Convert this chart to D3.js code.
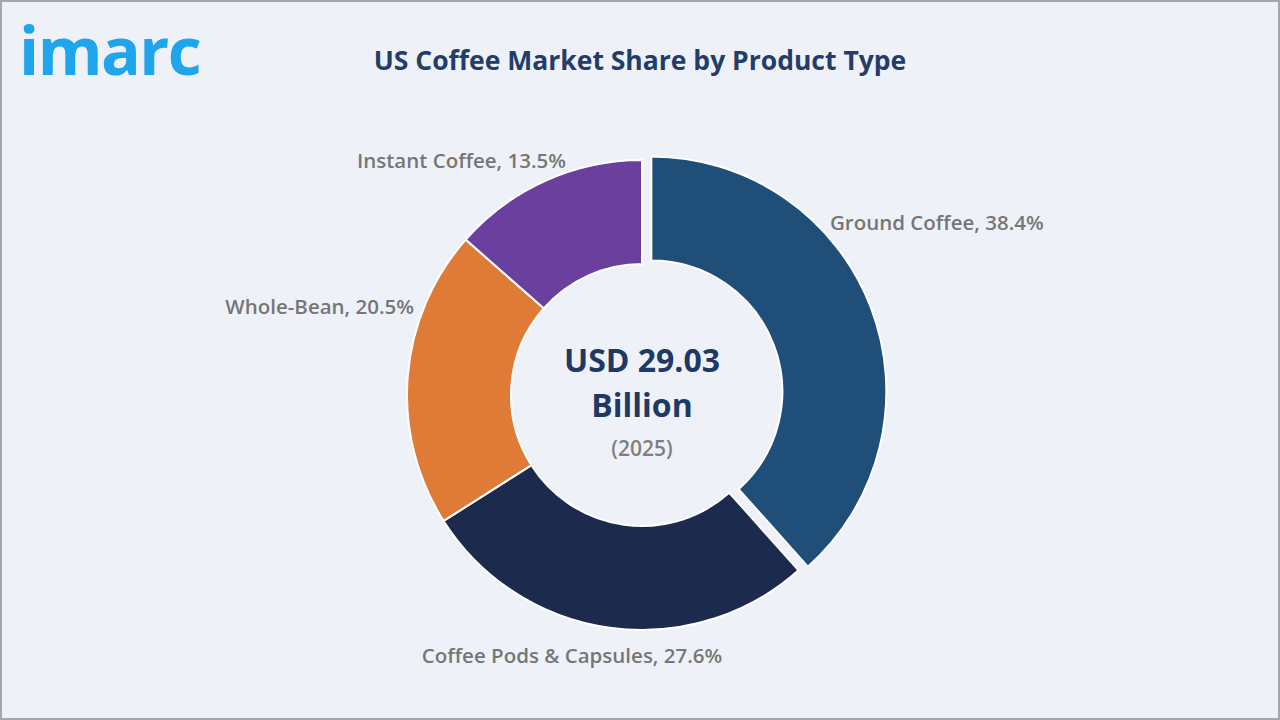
<!DOCTYPE html>
<html>
<head>
<meta charset="utf-8">
<script src="https://cdn.jsdelivr.net/npm/d3@7"></script>
<style>
  html, body { margin: 0; padding: 0; background: #eef2f8; }
  svg { display: block; }
</style>
</head>
<body>
<svg id="chart" width="1280" height="720"></svg>
<script>
// ---- data ----
const categories = ["Ground Coffee", "Coffee Pods & Capsules", "Whole-Bean", "Instant Coffee"];
const shares = [38.4, 27.6, 20.5, 13.5];
const colors = ["#1f4e79", "#1c2a4e", "#e07a37", "#6b3f9e"];
const titleText = "US Coffee Market Share by Product Type";
const centerLines = ["USD 29.03", "Billion", "(2025)"];

// ---- layout ----
const W = 1280, H = 720;
const cx = 642, cy = 395;
const outerR = 235, innerR = 131;
const explode = [10, 0, 0, 0];
// label anchors: [x, y, anchor]
const labelPos = [
  [830, 223, "start"],
  [572, 656, "middle"],
  [414, 307, "end"],
  [566, 161, "end"]
];

const svg = d3.select("#chart");
svg.append("rect").attr("x", 1).attr("y", 1).attr("width", W - 2).attr("height", H - 2)
  .attr("fill", "#eef2f8").attr("stroke", "#a6a6a6").attr("stroke-width", 2);

// logo
svg.append("text").attr("x", 19).attr("y", 75)
  .attr("font-family", "Open Sans, sans-serif").attr("font-weight", 700)
  .attr("font-size", 66).attr("fill", "#1ea5ec").attr("letter-spacing", -1.5)
  .text("imarc");

// title
svg.append("text").attr("x", 640).attr("y", 70).attr("text-anchor", "middle")
  .attr("font-family", "Open Sans, sans-serif").attr("font-weight", 700)
  .attr("font-size", 26.5).attr("fill", "#233c6a")
  .text(titleText);

const pie = d3.pie().sort(null).value(d => d)(shares);
const arc = d3.arc().innerRadius(innerR).outerRadius(outerR);

const g = svg.append("g").attr("transform", `translate(${cx},${cy})`);
g.selectAll("path").data(pie).join("path")
  .attr("d", arc)
  .attr("fill", (d, i) => colors[i])
  .attr("stroke", "#ffffff").attr("stroke-width", 2).attr("stroke-linejoin", "miter")
  .attr("transform", (d, i) => {
    const a = (d.startAngle + d.endAngle) / 2;
    return `translate(${Math.sin(a) * explode[i]},${-Math.cos(a) * explode[i]})`;
  });

// labels
svg.selectAll("text.lbl").data(pie).join("text").attr("class", "lbl")
  .attr("x", (d, i) => labelPos[i][0])
  .attr("y", (d, i) => labelPos[i][1])
  .attr("dy", "0.35em")
  .attr("text-anchor", (d, i) => labelPos[i][2])
  .attr("font-family", "Open Sans, sans-serif").attr("font-weight", 600)
  .attr("font-size", 20.5).attr("fill", "#767676")
  .text((d, i) => `${categories[i]}, ${shares[i]}%`);

// center text
svg.append("text").attr("x", cx).attr("y", 372).attr("text-anchor", "middle")
  .attr("font-family", "Open Sans, sans-serif").attr("font-weight", 700)
  .attr("font-size", 32).attr("fill", "#1f3864").text(centerLines[0]);
svg.append("text").attr("x", cx).attr("y", 417).attr("text-anchor", "middle")
  .attr("font-family", "Open Sans, sans-serif").attr("font-weight", 700)
  .attr("font-size", 32).attr("fill", "#1f3864").text(centerLines[1]);
svg.append("text").attr("x", cx).attr("y", 456).attr("text-anchor", "middle")
  .attr("font-family", "Open Sans, sans-serif").attr("font-weight", 600)
  .attr("font-size", 21).attr("fill", "#7f7f7f").text(centerLines[2]);
</script>
</body>
</html>
